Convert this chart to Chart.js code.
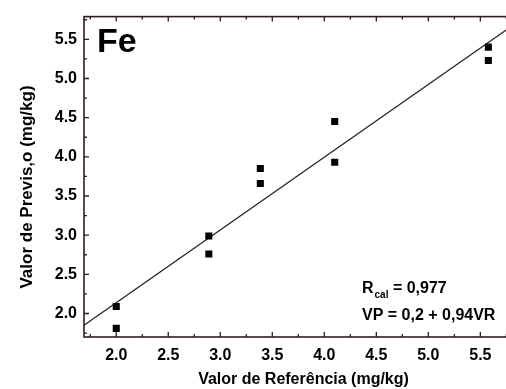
<!DOCTYPE html>
<html>
<head>
<meta charset="utf-8">
<script src="https://cdn.jsdelivr.net/npm/chart.js@4.4.0/dist/chart.umd.min.js"></script>
<style>
    body { margin: 0; overflow: hidden; background: #fff; }
    #wrap { width: 530px; height: 389px; }
</style>
</head>
<body>
<div id="wrap"><canvas id="FeChart" width="530" height="389"></canvas></div>
<script>
/* valores */
const refValues = [2.0, 2.0, 2.89, 2.89, 3.385, 3.385, 4.10, 4.10, 5.577, 5.577];
const predValues = [2.09, 1.81, 2.99, 2.76, 3.85, 3.66, 4.45, 3.93, 5.40, 5.23];
const fitX = [1.69, 5.91];
const fitY = [1.85, 5.77];
const xTicks = [2.0, 2.5, 3.0, 3.5, 4.0, 4.5, 5.0, 5.5];
const yTicks = [2.0, 2.5, 3.0, 3.5, 4.0, 4.5, 5.0, 5.5];
const xMinor = [1.75, 2.25, 2.75, 3.25, 3.75, 4.25, 4.75, 5.25, 5.75];
const yMinor = [1.75, 2.25, 2.75, 3.25, 3.75, 4.25, 4.75, 5.25, 5.75];

const frameColor = '#2b1d20';
const fontFam = '"Liberation Sans", Arial, sans-serif';

/* moldura, ticks para dentro e textos */
const framePlugin = {
    id: 'framePlugin',
    afterDatasetsDraw(chart) {
        const ctx = chart.ctx;
        const a = chart.chartArea;
        const xs = chart.scales.x;
        const ys = chart.scales.y;
        ctx.save();
        ctx.strokeStyle = frameColor;
        ctx.lineWidth = 1.6;
        ctx.strokeRect(a.left, a.top, a.right - a.left, a.bottom - a.top);

        ctx.lineWidth = 1.3;
        ctx.beginPath();
        xTicks.forEach(v => {
            const px = xs.getPixelForValue(v);
            ctx.moveTo(px, a.bottom); ctx.lineTo(px, a.bottom - 5);
            ctx.moveTo(px, a.top); ctx.lineTo(px, a.top + 5);
        });
        xMinor.forEach(v => {
            const px = xs.getPixelForValue(v);
            ctx.moveTo(px, a.bottom); ctx.lineTo(px, a.bottom - 3);
            ctx.moveTo(px, a.top); ctx.lineTo(px, a.top + 3);
        });
        yTicks.forEach(v => {
            const py = ys.getPixelForValue(v);
            ctx.moveTo(a.left, py); ctx.lineTo(a.left + 5, py);
        });
        yMinor.forEach(v => {
            const py = ys.getPixelForValue(v);
            ctx.moveTo(a.left, py); ctx.lineTo(a.left + 3, py);
        });
        ctx.stroke();

        ctx.fillStyle = '#000';
        ctx.textBaseline = 'alphabetic';
        ctx.textAlign = 'left';
        ctx.font = 'bold 34px ' + fontFam;
        ctx.fillText('Fe', 97, 52);

        ctx.font = 'bold 16px ' + fontFam;
        let x = 362;
        ctx.fillText('R', x, 293);
        x += ctx.measureText('R').width;
        ctx.font = 'bold 10px ' + fontFam;
        ctx.fillText('cal', x + 1, 298);
        x += ctx.measureText('cal').width + 1;
        ctx.font = 'bold 16px ' + fontFam;
        ctx.fillText(' = 0,977', x, 293);
        ctx.fillText('VP = 0,2 + 0,94VR', 362, 320);

        /* título do eixo y */
        ctx.save();
        ctx.translate(27, 187);
        ctx.rotate(-Math.PI / 2);
        ctx.textAlign = 'center';
        ctx.textBaseline = 'middle';
        ctx.font = 'bold 17px ' + fontFam;
        ctx.fillText('Valor de Previs‚o (mg/kg)', 0, 0);
        ctx.restore();
        ctx.restore();
    }
};

const FeChart = document.getElementById('FeChart');
const chart = new Chart(FeChart, {
    type: 'scatter',
    data: {
        datasets: [{
            label: 'amostras',
            data: refValues.map((v, i) => ({ x: v, y: predValues[i] })),
            pointStyle: 'rect',
            pointRadius: 5,
            pointHoverRadius: 5,
            backgroundColor: '#000',
            borderColor: '#000',
            borderWidth: 0
        }, {
            label: 'ajuste',
            type: 'line',
            data: fitX.map((v, i) => ({ x: v, y: fitY[i] })),
            borderColor: frameColor,
            borderWidth: 1.3,
            pointRadius: 0,
            fill: false
        }]
    },
    options: {
        responsive: false,
        animation: false,
        devicePixelRatio: 1,
        layout: { padding: { top: 13, right: 7, left: 0, bottom: 0 } },
        plugins: {
            legend: { display: false },
            tooltip: { enabled: false }
        },
        scales: {
            x: {
                type: 'linear',
                min: 1.69,
                max: 5.91,
                afterBuildTicks: s => { s.ticks = xTicks.map(v => ({ value: v })); },
                afterFit: s => { s.height = 52; },
                grid: { display: false, drawTicks: false },
                border: { display: false },
                ticks: {
                    color: '#000',
                    padding: 9,
                    font: { family: fontFam, size: 16, weight: 'bold' },
                    callback: v => v.toFixed(1)
                },
                title: {
                    display: true,
                    text: 'Valor de Referência (mg/kg)',
                    color: '#000',
                    padding: { top: 0, bottom: 0 },
                    font: { family: fontFam, size: 16, weight: 'bold' }
                }
            },
            y: {
                type: 'linear',
                min: 1.70,
                max: 5.79,
                afterBuildTicks: s => { s.ticks = yTicks.map(v => ({ value: v })); },
                afterFit: s => { s.width = 84; },
                grid: { display: false, drawTicks: false },
                border: { display: false },
                ticks: {
                    color: '#000',
                    padding: 7,
                    font: { family: fontFam, size: 16, weight: 'bold' },
                    callback: v => v.toFixed(1)
                },
                title: { display: false }
            }
        }
    },
    plugins: [framePlugin]
});
</script>
</body>
</html>
